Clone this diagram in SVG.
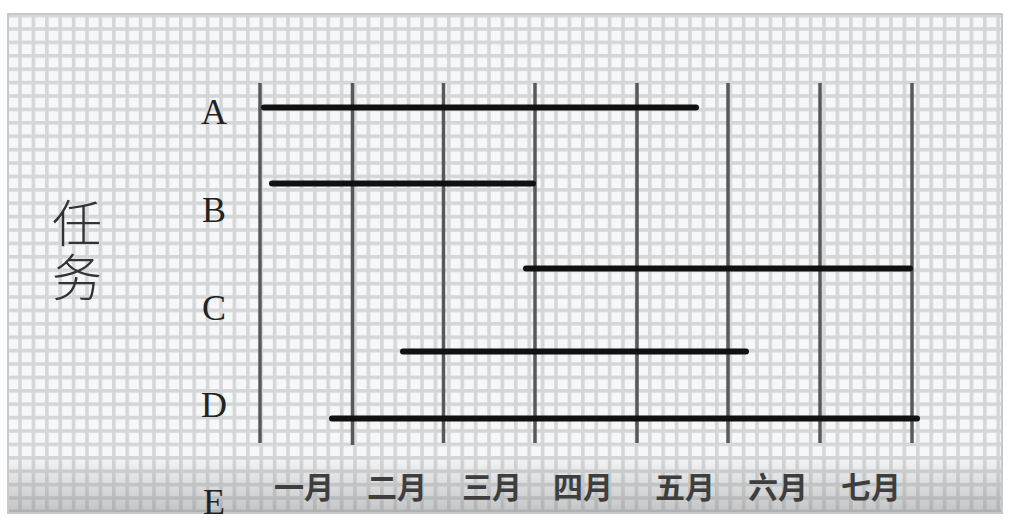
<svg xmlns="http://www.w3.org/2000/svg" width="1020" height="532" viewBox="0 0 1020 532">
  <defs>
    <pattern id="grid" patternUnits="userSpaceOnUse" x="4.8" y="0.4" width="13.4" height="13.4">
      <rect x="0" y="0" width="13.4" height="13.4" fill="#f6f7f8"/>
      <rect x="0" y="0" width="3.6" height="13.4" fill="#d4d6d8"/>
      <rect x="0" y="0" width="13.4" height="3.6" fill="#d4d6d8"/>
    </pattern>
    <linearGradient id="band" x1="0" y1="0" x2="0" y2="1">
      <stop offset="0" stop-color="#8a8a8a" stop-opacity="0"/>
      <stop offset="0.4" stop-color="#8a8a8a" stop-opacity="0.2"/>
      <stop offset="1" stop-color="#7a7a7a" stop-opacity="0.42"/>
    </linearGradient>
    <style>
      .vline { stroke: #58595b; stroke-width: 3.5; fill: none; }
      .bar { stroke: #111111; stroke-width: 6; stroke-linecap: round; fill: none; }
      .task { font-family: "Liberation Serif", "DejaVu Serif", serif; font-size: 36px; fill: #222222; text-anchor: middle; }
      .month { font-family: "Noto Sans CJK SC", "Noto Sans CJK JP", sans-serif; font-size: 30px; font-weight: bold; fill: #3e3e3e; text-anchor: middle; }
      .axis { font-family: "Noto Sans CJK SC", "Noto Sans CJK JP", sans-serif; font-size: 50px; fill: #333333; font-weight: 300; writing-mode: vertical-rl; letter-spacing: 4px; }
    </style>
  </defs>

  <rect x="0" y="0" width="1020" height="532" fill="#ffffff"/>

  <g id="background">
    <rect x="8" y="14" width="994" height="499" fill="url(#grid)"/>
    <rect x="8" y="455" width="994" height="58" fill="url(#band)"/>
    <rect x="8" y="14" width="994" height="499" fill="none" stroke="#c6c8ca" stroke-width="2"/>
  </g>

  <g id="month-lines">
    <line class="vline" x1="260" y1="83" x2="260" y2="443"/>
    <line class="vline" x1="352.5" y1="83" x2="352.5" y2="445"/>
    <line class="vline" x1="443.5" y1="83" x2="443.5" y2="443"/>
    <line class="vline" x1="535" y1="83" x2="535" y2="443"/>
    <line class="vline" x1="637" y1="83" x2="637" y2="443"/>
    <line class="vline" x1="728" y1="83" x2="728" y2="443"/>
    <line class="vline" x1="820" y1="83" x2="820" y2="443"/>
    <line class="vline" x1="912" y1="83" x2="912" y2="443"/>
  </g>

  <g id="connectors">
    <line id="bar-1" class="bar" x1="264" y1="107.5" x2="696" y2="107.5"/>
    <line id="bar-2" class="bar" x1="272" y1="183.5" x2="533" y2="183.5"/>
    <line id="bar-3" class="bar" x1="526" y1="268.5" x2="910" y2="268.5"/>
    <line id="bar-4" class="bar" x1="403" y1="351.5" x2="746" y2="351.5"/>
    <line id="bar-5" class="bar" x1="332" y1="418.5" x2="917" y2="418.5"/>
  </g>

  <g id="axis-title">
    <text class="axis" x="77" y="198">任务</text>
  </g>

  <g id="task-A"><text class="task" x="214" y="124">A</text></g>
  <g id="task-B"><text class="task" x="214" y="222">B</text></g>
  <g id="task-C"><text class="task" x="214" y="320">C</text></g>
  <g id="task-D"><text class="task" x="214" y="417">D</text></g>
  <g id="task-E"><text class="task" x="214" y="514">E</text></g>

  <g id="months">
    <text class="month" x="304" y="498">一月</text>
    <text class="month" x="397" y="498">二月</text>
    <text class="month" x="492" y="498">三月</text>
    <text class="month" x="583" y="498">四月</text>
    <text class="month" x="685" y="498">五月</text>
    <text class="month" x="778" y="498">六月</text>
    <text class="month" x="871" y="498">七月</text>
  </g>
</svg>
